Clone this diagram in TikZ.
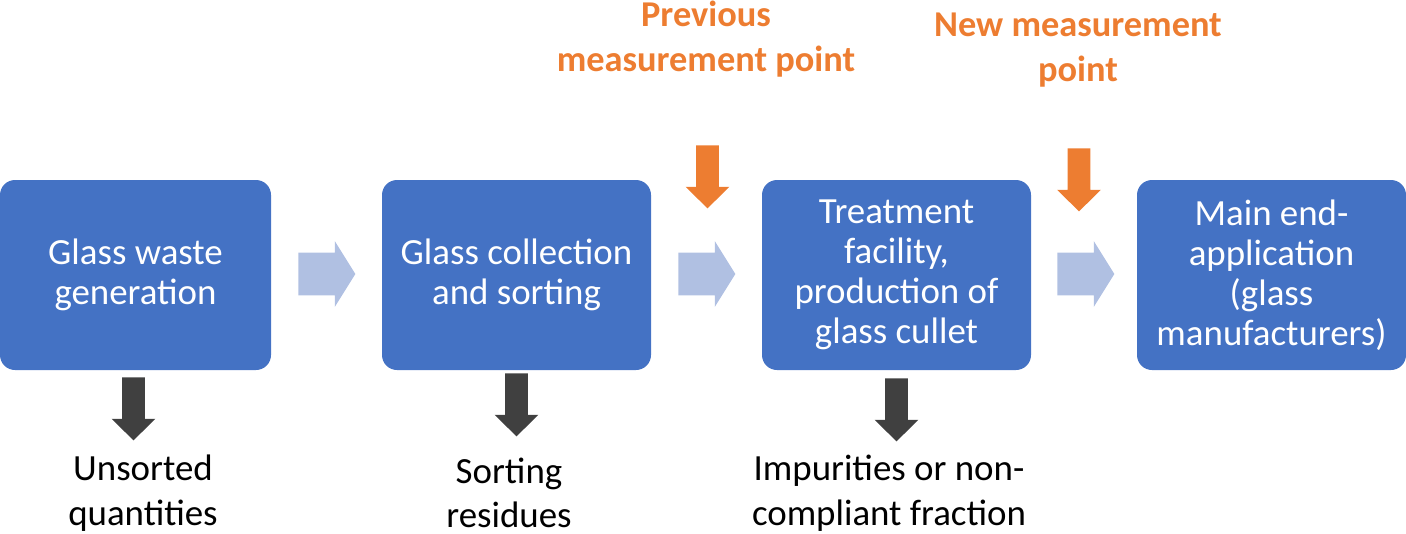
\documentclass[tikz,border=0pt]{standalone}
\usepackage{fontspec}
\setmainfont{Carlito}
\usetikzlibrary{shapes.arrows}

\definecolor{boxblue}{HTML}{4472C4}
\definecolor{flowblue}{HTML}{B0C0E2}
\definecolor{mpoint}{HTML}{ED7D31}
\definecolor{outgrey}{HTML}{404040}

\tikzset{
  stage/.style={rectangle, rounded corners=15*0.02cm, fill=boxblue, text=white,
    minimum width=269*0.02cm, minimum height=190*0.02cm, align=center,
    font=\fontsize{21}{22.8}\selectfont},
  flow/.style={single arrow, fill=flowblue, inner xsep=0pt, inner ysep=21*0.02cm, anchor=tail,
    minimum height=57*0.02cm, single arrow head extend=11.5*0.02cm, single arrow tip angle=116},
  measarrow/.style={single arrow, fill=mpoint, inner xsep=0pt, inner ysep=11*0.02cm, anchor=tail,
    minimum height=63*0.02cm, single arrow head extend=10.5*0.02cm, single arrow tip angle=91,
    rotate=-90},
  loss/.style={measarrow, fill=outgrey},
  mlabel/.style={text=mpoint, align=center, inner sep=0pt, font=\bfseries\fontsize{20.7}{25.2}\selectfont},
  olabel/.style={align=center, inner sep=0pt, font=\fontsize{21}{25.4}\selectfont}
}

\begin{document}
\begin{tikzpicture}[x=0.02cm,y=-0.02cm]
\useasboundingbox (0,0) rectangle (1406,534);
% stages
\node [stage, minimum width=271*0.02cm] (gen) at (135.5,275) {Glass waste\\generation};
\node [stage] (coll) at (516.5,275) {Glass collection\\and sorting};
\node [stage] (treat) at (896.5,275) {Treatment\\facility,\\production of\\glass cullet};
\node [stage] (app) at (1271.5,275) {Main end-\\application\\(glass\\manufacturers)};
% flow between stages
\node [flow] (f1) at (298,274) {};
\node [flow] (f2) at (678,274) {};
\node [flow] (f3) at (1057,274) {};
% measurement points
\node [measarrow] (m1) at (707.5,145) {};
\node [measarrow] (m2) at (1079,148) {};
\node [mlabel] (pm1) at (706,39) {Previous\\measurement point};
\node [mlabel] (pm2) at (1078,50) {New measurement\\point};
% outputs
\node [loss] (l1) at (133.5,377) {};
\node [loss] (l2) at (516.5,373) {};
\node [loss] (l3) at (896.5,378) {};
\node [olabel] (o1) at (143,493) {Unsorted\\quantities};
\node [olabel] (o2) at (509,493) {Sorting\\residues};
\node [olabel] (o3) at (889,493) {Impurities or non-\\compliant fraction};
\end{tikzpicture}
\end{document}
